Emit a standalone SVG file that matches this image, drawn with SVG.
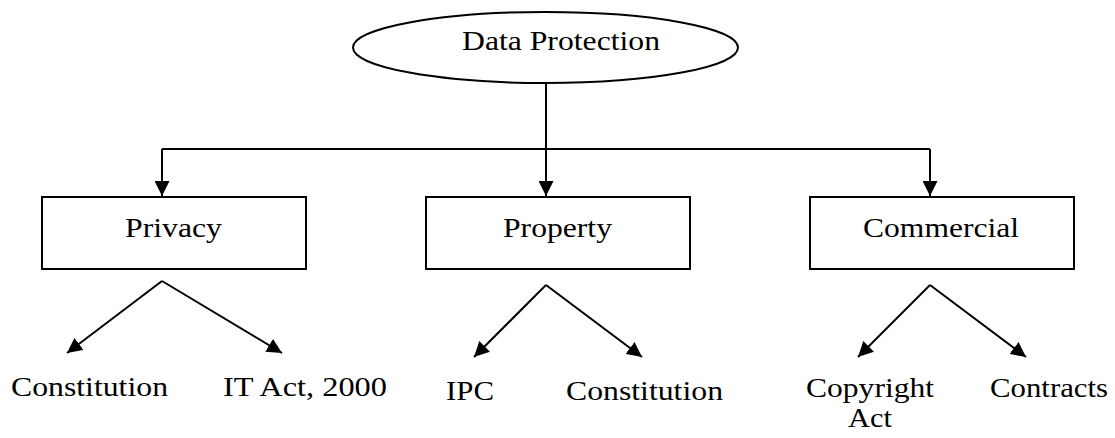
<svg xmlns="http://www.w3.org/2000/svg" width="1115" height="438" viewBox="0 0 1115 438">
<style>
.shape{fill:#fff;stroke:#000;stroke-width:2}
.ln{fill:none;stroke:#000;stroke-width:2}
.t{font-family:'Liberation Serif',Tinos,'Times New Roman',serif;font-size:28px;fill:#000}
</style>
<defs>
<marker id="ah" viewBox="0 0 10 10" refX="10" refY="5" markerUnits="userSpaceOnUse" markerWidth="15" markerHeight="15" orient="auto">
<path d="M0,0 L10,5 L0,10 z" fill="#000"/>
</marker>
</defs>
<rect width="1115" height="438" fill="#fff"/>
<g id="connectors">
<path class="ln" d="M546,83 L546,196" marker-end="url(#ah)"/>
<path class="ln" d="M162,149 L930,149"/>
<path class="ln" d="M162,149 L162,196" marker-end="url(#ah)"/>
<path class="ln" d="M930,149 L930,196" marker-end="url(#ah)"/>
<path class="ln" d="M162,281 L67,353" marker-end="url(#ah)"/>
<path class="ln" d="M162,281 L282,353" marker-end="url(#ah)"/>
<path class="ln" d="M546,285 L474,357" marker-end="url(#ah)"/>
<path class="ln" d="M546,285 L642,357" marker-end="url(#ah)"/>
<path class="ln" d="M930,285 L858,357" marker-end="url(#ah)"/>
<path class="ln" d="M930,285 L1026,357" marker-end="url(#ah)"/>
</g>
<g id="data-protection">
<ellipse class="shape" cx="545.5" cy="47.5" rx="192.5" ry="35.5"/>
<text class="t" font-family="Liberation Serif" x="462" y="50" textLength="198" lengthAdjust="spacingAndGlyphs">Data Protection</text>
</g>
<g id="privacy">
<rect class="shape" x="42" y="197" width="264" height="72"/>
<text class="t" font-family="Liberation Serif" x="125" y="237" textLength="97" lengthAdjust="spacingAndGlyphs">Privacy</text>
</g>
<g id="property">
<rect class="shape" x="426" y="197" width="264" height="72"/>
<text class="t" font-family="Liberation Serif" x="503" y="237" textLength="109" lengthAdjust="spacingAndGlyphs">Property</text>
</g>
<g id="commercial">
<rect class="shape" x="810" y="197" width="264" height="72"/>
<text class="t" font-family="Liberation Serif" x="863" y="237" textLength="156" lengthAdjust="spacingAndGlyphs">Commercial</text>
</g>
<g id="constitution-1"><text class="t" font-family="Liberation Serif" x="11" y="396" textLength="157" lengthAdjust="spacingAndGlyphs">Constitution</text></g>
<g id="it-act"><text class="t" font-family="Liberation Serif" x="223" y="396" textLength="164" lengthAdjust="spacingAndGlyphs">IT Act, 2000</text></g>
<g id="ipc"><text class="t" font-family="Liberation Serif" x="446" y="400" textLength="48" lengthAdjust="spacingAndGlyphs">IPC</text></g>
<g id="constitution-2"><text class="t" font-family="Liberation Serif" x="566" y="400" textLength="157" lengthAdjust="spacingAndGlyphs">Constitution</text></g>
<g id="copyright-act">
<text class="t" font-family="Liberation Serif" x="806" y="397" textLength="128" lengthAdjust="spacingAndGlyphs">Copyright</text>
<text class="t" font-family="Liberation Serif" x="848" y="427" textLength="44" lengthAdjust="spacingAndGlyphs">Act</text>
</g>
<g id="contracts"><text class="t" font-family="Liberation Serif" x="990" y="397" textLength="118" lengthAdjust="spacingAndGlyphs">Contracts</text></g>
</svg>
